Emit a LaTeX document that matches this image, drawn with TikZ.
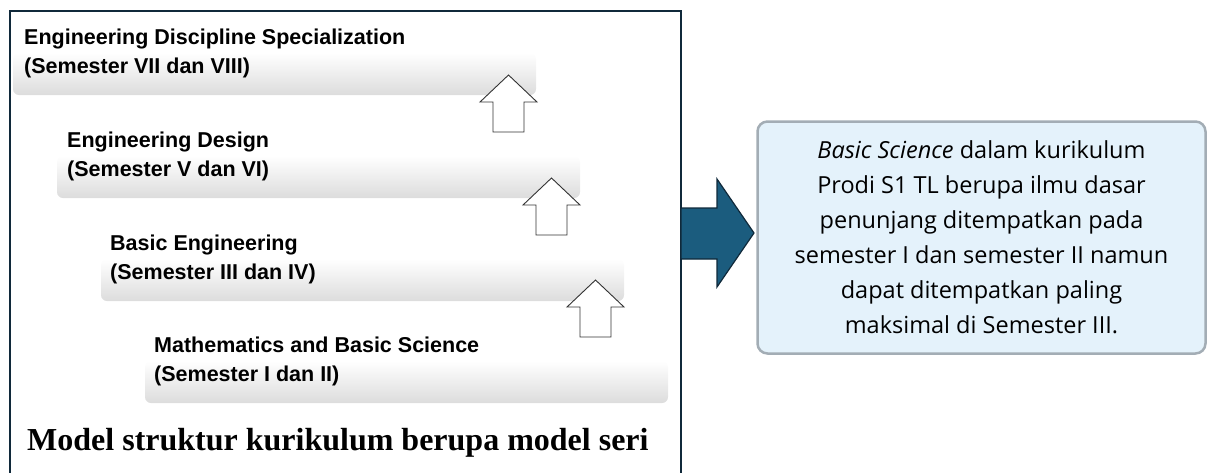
\documentclass[tikz,border=0pt]{standalone}
\usepackage{fontspec}
\setmainfont{Liberation Serif}
\newfontfamily\arialf{Liberation Sans}
\newfontfamily\boxf{Open Sans}
\usetikzlibrary{positioning}
\definecolor{framec}{HTML}{10293A}
\definecolor{bluearrow}{HTML}{1B5C7E}
\definecolor{boxfill}{HTML}{E4F2FB}
\definecolor{boxedge}{HTML}{A3ADB5}
\definecolor{barbot}{HTML}{DCDCDC}
\tikzset{
  x=1pt,y=-1pt,
  barbox/.style={rounded corners=6pt, top color=white, bottom color=barbot, draw=none},
  lbl/.style={anchor=base west, inner sep=0pt, font=\arialf\bfseries\fontsize{21.5}{26}\selectfont},
  uparrow/.style={draw=black!80, fill=white, line width=0.9pt, line join=miter},
}
\begin{document}
\begin{tikzpicture}
\useasboundingbox (0,0) rectangle (1208,472);
% outer frame
\draw[framec, line width=2pt] (10,11) rectangle (681,480);
% bars
\foreach \i/\xo/\yo in {1/13/53, 2/57/156, 3/101/259, 4/145/361} {
  \shade[barbox] (\xo,\yo) rectangle ++(523,42);
}
% labels
\node[lbl] (t1a) at (24,44) {Engineering Discipline Specialization};
\node[lbl] (t1b) at (24,73) {(Semester VII dan VIII)};
\node[lbl] (t2a) at (67,147) {Engineering Design};
\node[lbl] (t2b) at (67,176) {(Semester V dan VI)};
\node[lbl] (t3a) at (110,250) {Basic Engineering};
\node[lbl] (t3b) at (110,279) {(Semester III dan IV)};
\node[lbl] (t4a) at (154,352) {Mathematics and Basic Science};
\node[lbl] (t4b) at (154,381) {(Semester I dan II)};
% up arrows
\foreach \cx/\ty in {508.5/75, 551.5/178, 595.5/280} {
  \draw[uparrow] (\cx,\ty) -- ++(28.5,27) -- ++(-13,0) -- ++(0,30) -- ++(-31,0) -- ++(0,-30) -- ++(-13,0) -- cycle;
}
% caption
\node[anchor=base west, inner sep=0pt, font=\bfseries\fontsize{32}{36}\selectfont] (cap) at (27,450) {Model struktur kurikulum berupa model seri};
% blue arrow
\draw[fill=bluearrow, draw=framec, line width=1.2pt, line join=miter]
  (681,208) -- (717,208) -- (717,179) -- (754,233) -- (717,287) -- (717,259) -- (681,259) -- cycle;
% right box
\node[draw=boxedge, line width=2.5pt, fill=boxfill, rounded corners=10pt,
      minimum width=448pt, minimum height=232pt, inner sep=0pt,
      align=center, font=\boxf\fontsize{23.5}{35}\selectfont] (note) at (981.5,237.5)
  {\textit{Basic Science} dalam kurikulum\\
   Prodi S1 TL berupa ilmu dasar\\
   penunjang ditempatkan pada\\
   semester I dan semester II namun\\
   dapat ditempatkan paling\\
   maksimal di Semester III.};
\end{tikzpicture}
\end{document}
